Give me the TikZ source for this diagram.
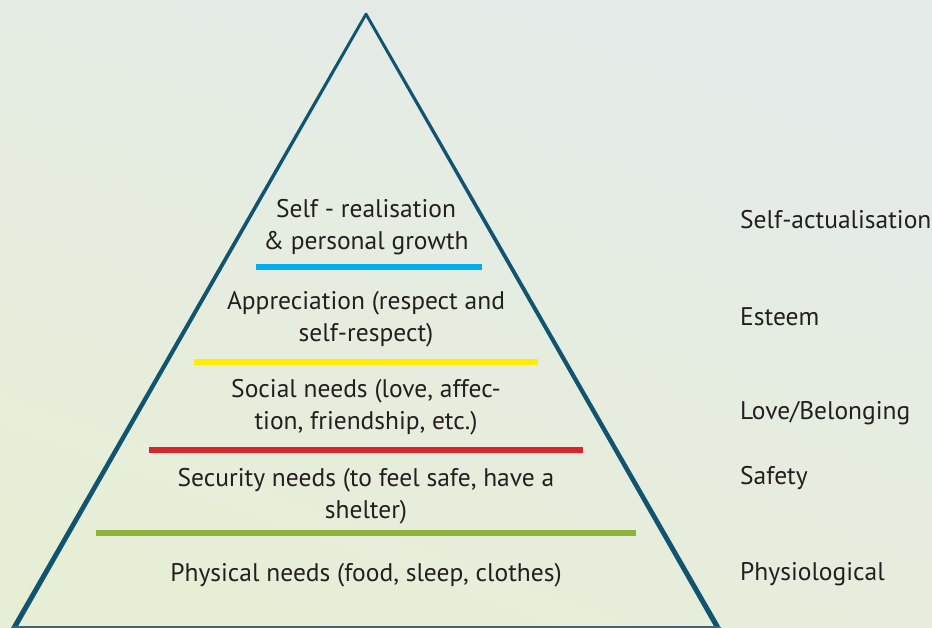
\documentclass[tikz,border=0pt]{standalone}
\usepackage{fontspec}
\setmainfont{PT Sans}
\usetikzlibrary{positioning}
\definecolor{pyramidEdge}{RGB}{16,84,112}
\definecolor{textDark}{RGB}{35,31,32}
\definecolor{bgTop}{RGB}{228,235,233}
\definecolor{bgBottom}{RGB}{231,238,214}
\definecolor{levelBlue}{RGB}{0,174,239}
\definecolor{levelYellow}{RGB}{255,236,0}
\definecolor{levelRed}{RGB}{213,38,45}
\definecolor{levelGreen}{RGB}{141,179,58}
\newcommand{\levelFont}{\fontsize{25.5}{32}\selectfont}
\newcommand{\barWidth}{6pt}
\tikzset{
  level/.style={text=textDark, font=\levelFont, align=center, inner sep=0pt},
  tier/.style={text=textDark, font=\levelFont, anchor=west, inner sep=0pt},
  bar/.style={line width=\barWidth}
}

\begin{document}
\begin{tikzpicture}[x=1pt, y=-1pt]
\shade[top color=bgTop, bottom color=bgBottom, shading angle=-20] (0,0) rectangle (932,628);
\useasboundingbox (0,0) rectangle (932,628);
% pyramid, edges thicken towards the base
\fill[pyramidEdge] (365,13) -- (367,13) -- (721,628) -- (715,628) -- (366,17) -- (17,628) -- (11,628) -- cycle;
\draw[pyramidEdge!60!gray, line width=2pt] (12,627) -- (720,627);
% level bars
\draw[bar, levelBlue] (256,267) -- (482,267);
\draw[bar, levelYellow] (194,362) -- (538,362);
\draw[bar, levelRed] (149,450) -- (583,450);
\draw[bar, levelGreen] (96,533) -- (636,533);
% texts inside the pyramid
\node[level] (self) at (366,227) {Self - realisation\\\& personal growth};
\node[level] (appr) at (366,319) {Appreciation (respect and\\self-respect)};
\node[level] (social) at (366,407) {Social needs (love, affec-\\tion, friendship, etc.)};
\node[level] (secur) at (366,496) {Security needs (to feel safe, have a\\shelter)};
\node[level] (phys) at (366,575) {Physical needs (food, sleep, clothes)};
% tier names
\node[tier] (actual) at (740,220) {Self-actualisation};
\node[tier] (esteem) at (740,317) {Esteem};
\node[tier] (love) at (740,413) {Love/Belonging};
\node[tier] (safety) at (740,478) {Safety};
\node[tier] (physio) at (740,574) {Physiological};
\end{tikzpicture}
\end{document}
